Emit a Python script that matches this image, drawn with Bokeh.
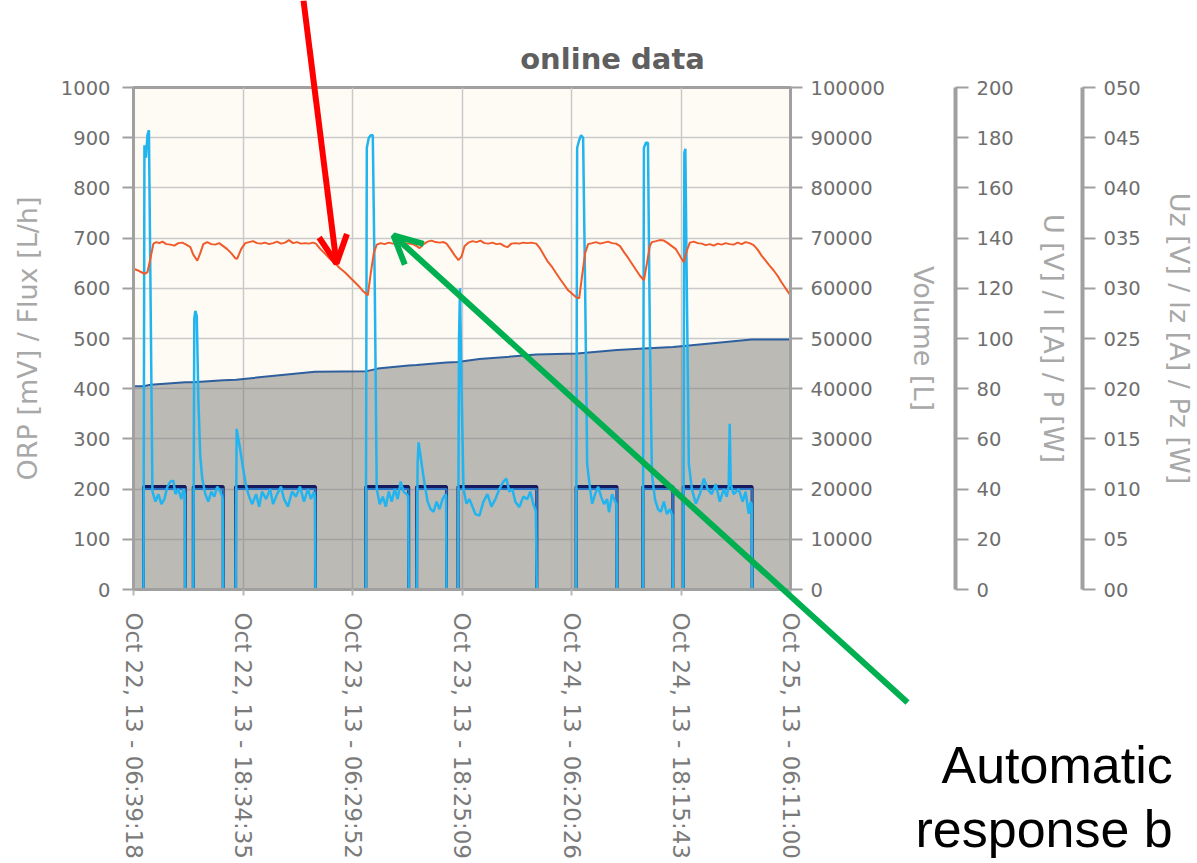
import pandas as pd
from bokeh.plotting import figure
from bokeh.models import (Range1d, LinearAxis, FixedTicker, DatetimeTickFormatter,
                          BasicTickFormatter, Label, Arrow, OpenHead)
from bokeh.embed import file_html
from bokeh.resources import INLINE

# ---------------- data ----------------
TITLE = "online data"
START = "2013-10-22 06:39:18"
X_TICK_LABELS = ["Oct 22, 13 - 06:39:18", "Oct 22, 13 - 18:34:35", "Oct 23, 13 - 06:29:52",
                 "Oct 23, 13 - 18:25:09", "Oct 24, 13 - 06:20:26", "Oct 24, 13 - 18:15:43",
                 "Oct 25, 13 - 06:11:00"]
LEFT_TICKS = [0, 100, 200, 300, 400, 500, 600, 700, 800, 900, 1000]
VOL_TICKS = [0, 10000, 20000, 30000, 40000, 50000, 60000, 70000, 80000, 90000, 100000]
U_TICKS = [0, 20, 40, 60, 80, 100, 120, 140, 160, 180, 200]
UZ_TICKS = [0, 5, 10, 15, 20, 25, 30, 35, 40, 45, 50]
UZ_TICK_LABELS = ["00", "05", "010", "015", "020", "025", "030", "035", "040", "045", "050"]

# ORP [mV]  (hours since start)
ORP_H = [0.00, 0.43, 0.87, 1.19, 1.52, 1.85, 2.17, 2.50, 2.82, 3.15, 3.58, 4.02, 4.45, 4.88,
         5.32, 5.75, 6.19, 6.51, 6.95, 7.27, 7.60, 8.03, 8.47, 8.90, 9.33, 9.77, 10.20, 10.64,
         11.07, 11.29, 11.72, 12.16, 12.59, 13.02, 13.46, 13.89, 14.33, 14.76, 15.20, 15.63,
         16.06, 16.50, 16.93, 17.37, 17.80, 18.23, 18.67, 19.10, 19.54, 19.86, 20.30, 20.84,
         21.38, 21.93, 22.47, 23.01, 23.55, 24.10, 24.64, 25.07, 25.51, 25.83, 26.16, 26.48,
         26.92, 27.35, 27.79, 28.22, 28.65, 29.09, 29.52, 29.96, 30.39, 30.83, 31.15, 31.59,
         32.02, 32.45, 32.89, 33.32, 33.76, 34.08, 34.52, 34.95, 35.38, 35.71, 36.04, 36.47,
         36.90, 37.34, 37.77, 38.21, 38.64, 39.07, 39.51, 39.94, 40.38, 40.70, 41.14, 41.57,
         42.01, 42.44, 42.87, 43.31, 43.85, 44.28, 44.72, 45.15, 45.59, 46.02, 46.46, 46.89,
         47.32, 47.76, 48.19, 48.52, 48.84, 49.17, 49.49, 49.93, 50.36, 50.80, 51.23, 51.66,
         52.10, 52.53, 52.97, 53.40, 53.84, 54.27, 54.70, 55.14, 55.57, 55.90, 56.22, 56.44,
         56.88, 57.31, 57.74, 58.18, 58.61, 59.05, 59.48, 59.91, 60.24, 60.57, 61.00, 61.43,
         61.87, 62.30, 62.74, 63.17, 63.61, 64.04, 64.47, 64.91, 65.34, 65.78, 66.21, 66.64,
         67.08, 67.51, 67.95, 68.38, 68.82, 69.25, 69.68, 70.12, 70.55, 70.99, 71.53]
ORP_MV = [639, 636, 632, 629, 632, 660, 689, 692, 690, 693, 688, 687, 685, 690,
          691, 687, 682, 667, 655, 670, 688, 692, 688, 687, 690, 684, 678, 670,
          660, 659, 678, 690, 692, 694, 690, 689, 691, 688, 690, 693,
          689, 691, 696, 690, 692, 689, 690, 689, 691, 689, 679, 669,
          659, 650, 640, 632, 622, 612, 602, 593, 586, 630, 670, 687,
          690, 688, 691, 689, 690, 687, 690, 689, 688, 684, 680, 688,
          693, 695, 692, 691, 692, 689, 678, 666, 656, 663, 684, 691,
          694, 692, 695, 690, 689, 691, 688, 689, 684, 682, 689, 690,
          689, 691, 690, 691, 689, 679, 665, 652, 642, 630, 618, 607,
          596, 589, 582, 580, 625, 670, 688, 690, 692, 689, 691, 693,
          690, 689, 684, 672, 661, 649, 637, 625, 616, 650, 685, 692,
          694, 696, 695, 690, 684, 678, 665, 652, 675, 691, 693, 690,
          689, 686, 688, 685, 689, 687, 690, 688, 687, 691, 688, 692,
          690, 686, 677, 665, 655, 645, 636, 625, 612, 600, 586]

# Flux [L/h]
FLUX_H = [0.00, 1.09, 1.19, 1.36, 1.52, 1.68, 1.85, 2.06, 2.39, 2.71, 3.04, 3.36, 3.69, 4.02,
          4.34, 4.56, 4.88, 5.21, 5.43, 5.59, 5.64,
          6.51, 6.62, 6.73, 6.89, 7.06, 7.27, 7.49, 7.82, 8.14, 8.47, 8.79, 9.12, 9.44, 9.66,
          9.71, 9.77,
          11.12, 11.23, 11.61, 11.94, 12.27, 12.59, 12.92, 13.35, 13.68, 14.00, 14.44, 14.87,
          15.20, 15.63, 16.06, 16.39, 16.82, 17.26, 17.69, 18.13, 18.56, 18.99, 19.32, 19.65,
          19.75, 19.81,
          25.29, 25.40, 25.62, 25.83, 26.05, 26.27, 26.48, 26.81, 27.14, 27.46, 27.79, 28.11,
          28.44, 28.76, 29.09, 29.41, 29.74, 29.90, 29.96,
          30.83, 30.93, 31.04, 31.37, 31.69, 32.02, 32.35, 32.67, 33.00, 33.32, 33.65, 33.98,
          34.03, 34.08,
          35.33, 35.44, 35.55, 35.71, 35.93, 36.25, 36.58, 36.90, 37.23, 37.66, 38.10, 38.53,
          38.97, 39.40, 39.83, 40.27, 40.59, 40.92, 41.25, 41.57, 42.01, 42.44, 42.87, 43.20,
          43.53, 43.80, 43.91,
          48.19, 48.30, 48.52, 48.73, 48.95, 49.17, 49.39, 49.71, 49.93, 50.26, 50.58, 50.91,
          51.23, 51.56, 51.77, 52.10, 52.43, 52.59, 52.64,
          55.46, 55.57, 55.79, 56.01, 56.22, 56.44, 56.77, 57.10, 57.42, 57.74, 58.07, 58.40,
          58.61, 58.67, 58.72,
          59.86, 59.97, 60.08, 60.24, 60.46, 60.79, 61.22, 61.66, 62.09, 62.52, 62.96, 63.40,
          63.83, 64.26, 64.58, 64.80, 64.91, 65.02, 65.34, 65.89, 66.32, 66.64, 66.97, 67.19,
          67.30, 67.35, 71.53]
FLUX_LH = [0, 0, 885, 860, 905, 915, 600, 195, 175, 190, 170, 180, 205, 215,
           217, 190, 200, 180, 200, 190, 0,
           0, 540, 555, 545, 380, 265, 220, 190, 175, 195, 185, 205, 195, 185,
           180, 0,
           0, 320, 280, 240, 205, 185, 170, 190, 165, 195, 180, 200,
           170, 190, 205, 180, 165, 195, 185, 205, 175, 200, 180, 195,
           185, 0,
           0, 880, 900, 905, 905, 600, 200, 170, 185, 165, 195, 175,
           200, 180, 215, 195, 190, 185, 0,
           0, 250, 293, 250, 210, 175, 160, 155, 175, 160, 180, 190,
           185, 0,
           0, 500, 600, 400, 200, 171, 180, 165, 150, 147, 175, 190,
           165, 180, 200, 215, 221, 195, 200, 175, 164, 185, 180, 195,
           170, 157, 0,
           0, 880, 895, 905, 900, 600, 250, 200, 171, 190, 205, 185,
           170, 180, 154, 190, 175, 170, 0,
           0, 880, 890, 890, 500, 230, 180, 160, 155, 175, 150, 160,
           150, 150, 0,
           0, 870, 878, 600, 250, 200, 171, 190, 221, 200, 190, 210,
           175, 200, 185, 205, 330, 210, 190, 200, 175, 195, 151, 175,
           170, 0, 0]

# Electrolysis on/off periods (hours since start) and levels
PULSE_ON = [1.09, 6.51, 11.12, 25.29, 30.83, 35.33, 48.19, 55.46, 59.86]
PULSE_OFF = [5.64, 9.77, 19.81, 29.96, 34.08, 43.91, 52.64, 58.72, 67.35]
U_LEVEL = 41     # U [V]
I_LEVEL = 40     # I [A]

# Volume [L]
VOL_H = [0.00, 1.09, 1.85, 5.64, 6.51, 9.77, 11.18, 19.75, 25.40, 26.59, 29.96, 30.83,
         34.08, 35.28, 37.66, 43.85, 48.30, 52.64, 55.57, 58.72, 59.91, 67.30, 71.53]
VOL_L = [40500, 40500, 40800, 41300, 41300, 41700, 41800, 43400, 43500, 44000, 44600, 44700,
         45200, 45300, 45900, 46800, 47000, 47700, 48000, 48300, 48500, 49800, 49800]

# annotation texts
NOTE_LINES = ["Automatic", "response b"]

# ---------------- helpers ----------------
W, H = 1197, 863
t0 = pd.Timestamp(START)
tick_ts = [pd.to_datetime(s, format="%b %d, %y - %H:%M:%S") for s in X_TICK_LABELS]
tick_ms = [float((t - pd.Timestamp("1970-01-01")) // pd.Timedelta(milliseconds=1)) for t in tick_ts]


def to_dt(hours):
    return t0 + pd.to_timedelta(hours, unit="h")


def pulse_series(level, end_h):
    xs, ys = [0.0], [0]
    for a, b in zip(PULSE_ON, PULSE_OFF):
        xs += [a, a, b, b]
        ys += [0, level, level, 0]
    xs.append(end_h)
    ys.append(0)
    return xs, ys


FONT = "DejaVu Sans"
TICK_COLOR = "#6e6e6e"
LABEL_COLOR = "#a8a8a8"
AXIS_COLOR = "#a0a0a0"

p = figure(width=W, height=H, x_axis_type="datetime",
           x_range=Range1d(tick_ts[0].to_pydatetime(), tick_ts[-1].to_pydatetime()),
           y_range=Range1d(0, 1000),
           output_backend="svg", toolbar_location=None,
           min_border_left=133, min_border_right=405, min_border_top=87, min_border_bottom=274,
           background_fill_color="#fdfbf3", border_fill_color="white",
           outline_line_color=AXIS_COLOR, outline_line_width=3)
p.extra_y_ranges = {"vol": Range1d(0, 100000), "u": Range1d(0, 200), "uz": Range1d(0, 50)}

# grid
p.xgrid.ticker = FixedTicker(ticks=tick_ms)
p.ygrid.ticker = FixedTicker(ticks=LEFT_TICKS)
p.grid.grid_line_color = "#c9c9c9"
p.grid.grid_line_width = 1.5

# glyphs
vol_x = to_dt(VOL_H)
p.varea(x=vol_x, y1=[0] * len(VOL_L), y2=VOL_L, y_range_name="vol",
        fill_color="#7c7a77", fill_alpha=0.5)
p.line(vol_x, VOL_L, y_range_name="vol", line_color="#2e5f9e", line_width=2)

ux, uy = pulse_series(U_LEVEL, 71.53)
p.line(to_dt(ux), uy, y_range_name="u", line_color="#161a5e", line_width=3)
ix, iy = pulse_series(I_LEVEL, 71.53)
p.line(to_dt(ix), iy, y_range_name="u", line_color="#2b75c4", line_width=2)
p.line(to_dt(FLUX_H), FLUX_LH, line_color="#22b4ef", line_width=2.5)
p.line(to_dt(ORP_H), ORP_MV, line_color="#ef5b2b", line_width=2)


def style_y(ax, ticks, tick_out, standoff, label, label_standoff):
    ax.ticker = FixedTicker(ticks=ticks)
    ax.major_tick_out = tick_out
    ax.major_tick_in = 0
    ax.minor_tick_line_color = None
    ax.major_tick_line_color = AXIS_COLOR
    ax.major_tick_line_width = 2
    ax.axis_line_color = AXIS_COLOR
    ax.axis_line_width = 3
    ax.major_label_standoff = standoff
    ax.major_label_text_font = FONT
    ax.major_label_text_font_size = "19.5px"
    ax.major_label_text_color = TICK_COLOR
    ax.axis_label = label
    ax.axis_label_standoff = label_standoff
    ax.axis_label_text_font = FONT
    ax.axis_label_text_font_size = "27px"
    ax.axis_label_text_font_style = "normal"
    ax.axis_label_text_color = LABEL_COLOR


style_y(p.yaxis[0], LEFT_TICKS, 11, 12, "ORP [mV] / Flux [L/h]", 15)

xa = p.xaxis[0]
xa.ticker = FixedTicker(ticks=tick_ms)
fmt = "%b %d, %y - %H:%M:%S"
xa.formatter = DatetimeTickFormatter(microseconds=fmt, milliseconds=fmt, seconds=fmt, minsec=fmt,
                                     minutes=fmt, hourmin=fmt, hours=fmt, days=fmt,
                                     months=fmt, years=fmt)
xa.major_label_orientation = "vertical"
xa.major_tick_out = 6
xa.major_tick_in = 0
xa.minor_tick_line_color = None
xa.major_tick_line_color = "#b8b8b8"
xa.major_tick_line_width = 2
xa.axis_line_color = AXIS_COLOR
xa.axis_line_width = 3
xa.major_label_standoff = 17
xa.major_label_text_font = FONT
xa.major_label_text_font_size = "23px"
xa.major_label_text_color = "#7a7a7a"

vol_ax = LinearAxis(y_range_name="vol", formatter=BasicTickFormatter(use_scientific=False))
style_y(vol_ax, VOL_TICKS, 12, 8, "Volume [L]", 20)
p.add_layout(vol_ax, "right")


def spacer(rng, tick, gap):
    # an unlabeled axis whose white tick only reserves horizontal room between two axes
    sp = LinearAxis(y_range_name=rng, ticker=FixedTicker(ticks=[tick]),
                    major_label_overrides={tick: ""}, axis_line_color=None,
                    major_tick_line_color="white", minor_tick_line_color=None,
                    major_tick_out=gap, major_tick_in=0, major_label_standoff=0)
    p.add_layout(sp, "right")


spacer("vol", 50000, 14)

u_ax = LinearAxis(y_range_name="u")
style_y(u_ax, U_TICKS, 13, 8, "U [V] / I [A] / P [W]", 21)
u_ax.axis_line_width = 4
p.add_layout(u_ax, "right")

spacer("u", 100, 11)

uz_ax = LinearAxis(y_range_name="uz")
style_y(uz_ax, UZ_TICKS, 13, 8, "Uz [V] / Iz [A] / Pz [W]", 20)
uz_ax.major_label_overrides = {t: s for t, s in zip(UZ_TICKS, UZ_TICK_LABELS)}
uz_ax.axis_line_width = 4
p.add_layout(uz_ax, "right")

# ---------------- overlay: title, arrows and note (page pixels) ----------------
ov = figure(width=W, height=H, x_range=Range1d(0, W), y_range=Range1d(H, 0),
            x_axis_location=None, y_axis_location=None, toolbar_location=None,
            output_backend="svg", min_border=0, background_fill_color=None,
            border_fill_color=None, outline_line_color=None)
ov.grid.visible = False
ov.margin = (-H, 0, 0, 0)

ov.add_layout(Label(x=612, y=58, text=TITLE, text_align="center", text_baseline="alphabetic",
                    text_font=FONT, text_font_style="bold", text_font_size="29px",
                    text_color="#5f5f5f"))
ov.add_layout(Arrow(x_start=303, y_start=0, x_end=336, y_end=263,
                    line_color="#ff0000", line_width=6,
                    end=OpenHead(size=28, line_color="#ff0000", line_width=6)))
ov.add_layout(Arrow(x_start=907, y_start=702, x_end=393, y_end=235,
                    line_color="#00b050", line_width=6,
                    end=OpenHead(size=28, line_color="#00b050", line_width=6)))
for txt, x, y in zip(NOTE_LINES, [941, 915], [764, 828]):
    ov.add_layout(Label(x=x, y=y, text=txt, text_align="left", text_baseline="alphabetic",
                        text_font="Liberation Sans", text_font_size="52px", text_color="black"))

open("out.html", "w").write(file_html([p, ov], INLINE))
